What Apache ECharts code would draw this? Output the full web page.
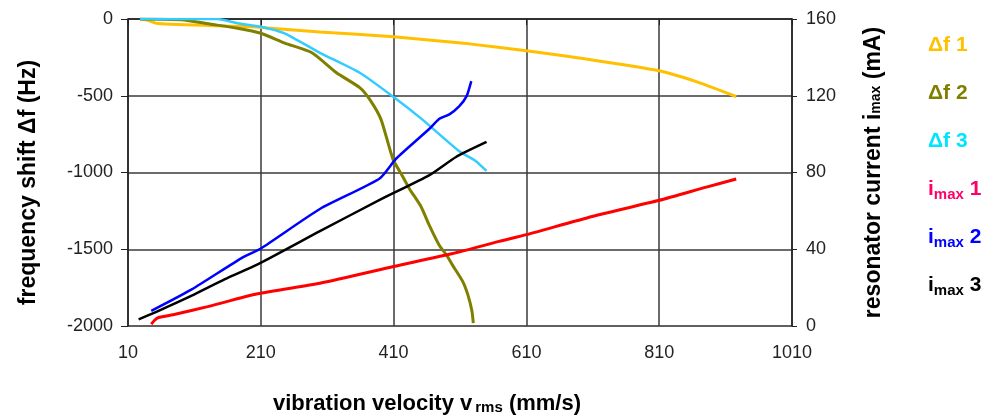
<!DOCTYPE html>
<html>
<head>
<meta charset="utf-8">
<script src="https://cdn.jsdelivr.net/npm/echarts@6/dist/echarts.min.js"></script>
<style>
  html, body { margin: 0; padding: 0; background: #fff; }
  #chart { width: 990px; height: 420px; }
</style>
</head>
<body>
<div id="chart"></div>
<script>
// vibration velocity ticks (mm/s)
var xTicks = [10, 210, 410, 610, 810, 1010]

// frequency shift curves (Hz)
var df1X = [28, 40, 55, 175, 210, 299, 410, 524, 610, 700, 808, 870, 926]
var df1Y = [0, -8, -30, -48, -55, -84, -116, -162, -207, -261, -336, -414, -505]
var df2X = [28, 90, 135, 175, 210, 246, 287, 324, 359, 374, 391, 409, 423, 434, 451, 464, 479, 490, 499, 514, 522, 528, 530]
var df2Y = [0, -5, -34, -60, -93, -157, -220, -350, -447, -524, -654, -913, -1021, -1107, -1220, -1346, -1476, -1540, -1605, -1709, -1799, -1903, -1981]
var df3X = [28, 145, 175, 210, 245, 299, 359, 409, 453, 509, 533, 550]
var df3Y = [0, 0, -28, -50, -92, -220, -350, -505, -654, -862, -923, -990]

// resonator current curves (mA)
var i1X = [45, 50, 56, 81, 130, 205, 299, 410, 499, 569, 610, 709, 810, 881, 926]
var i1Y = [1, 3, 4.4, 6.1, 10.1, 16.8, 22.3, 31, 37.8, 44.1, 47.6, 57.1, 65.5, 72.4, 76.6]
var i2X = [45, 106, 181, 210, 299, 389, 414, 464, 479, 494, 509, 520, 527]
var i2Y = [7.9, 19.1, 35.4, 40.4, 61, 76.9, 87.3, 102.8, 108, 110.3, 114.6, 119.8, 127.6]
var i3X = [26, 56, 106, 156, 206, 299, 389, 464, 504, 550]
var i3Y = [3.5, 7.9, 15.8, 24.4, 32.2, 49.4, 65.7, 78.6, 88.1, 95.9]

function pairs (xs, ys) {
  return xs.map(function (x, i) { return [x, ys[i]] })
}

var chart = echarts.init(document.getElementById('chart'))

var FONT = 'Liberation Sans, Arial, sans-serif'
var labelFont = { fontFamily: FONT, fontSize: 18, color: '#222', formatter: function (v) { return String(v) } }
var nameFont = { fontFamily: FONT, fontSize: 23, fontWeight: 'bold', color: '#000' }
var gridLine = { lineStyle: { color: '#3a3a3a', width: 1.5 } }

function line (name, data, axis, color, width) {
  return {
    name: name,
    type: 'line',
    yAxisIndex: axis,
    data: data,
    showSymbol: false,
    smooth: 0.2,
    lineStyle: { color: color, width: width },
    itemStyle: { color: color },
    z: 3
  }
}

function legendText (top, text, color) {
  return {
    type: 'text',
    left: 928,
    top: top,
    style: {
      text: text,
      fill: color,
      rich: {
        a: { fontFamily: FONT, fontSize: 21, fontWeight: 'bold', fill: color, lineHeight: 26, verticalAlign: 'middle' },
        s: { fontFamily: FONT, fontSize: 15, fontWeight: 'bold', fill: color, lineHeight: 14, verticalAlign: 'bottom' }
      }
    }
  }
}

var option = {
  animation: false,
  grid: {
    left: 128, right: 198, top: 19, bottom: 92,
    show: true, borderColor: '#aaa', borderWidth: 1
  },
  xAxis: {
    type: 'value',
    min: 10,
    max: 1010,
    name: 'vibration velocity v{s|rms} (mm/s)',
    nameLocation: 'middle',
    nameGap: 66,
    nameTextStyle: Object.assign({}, nameFont, {
      fontSize: 22,
      padding: [0, 66, 0, 0],
      rich: {
        s: { fontFamily: FONT, fontSize: 15, fontWeight: 'bold', padding: [8, 0, 0, 3] }
      }
    }),
    axisLine: { lineStyle: { color: '#222', width: 1.5 } },
    axisTick: { show: true, length: 6, customValues: xTicks, lineStyle: { color: '#222' } },
    axisLabel: Object.assign({ customValues: xTicks, margin: 18 }, labelFont),
    splitLine: gridLine
  },
  yAxis: [{
    type: 'value',
    min: -2000,
    max: 0,
    interval: 500,
    name: 'frequency shift Δf (Hz)',
    nameLocation: 'middle',
    nameGap: 88,
    nameRotate: 90,
    nameTextStyle: Object.assign({}, nameFont, { padding: [0, 20, 0, 0] }),
    axisLine: { show: true, lineStyle: { color: '#222', width: 1.5 } },
    axisTick: { show: true, length: 7, lineStyle: { color: '#222' } },
    axisLabel: Object.assign({ margin: 15 }, labelFont),
    splitLine: gridLine
  }, {
    type: 'value',
    min: 0,
    max: 160,
    interval: 40,
    position: 'right',
    name: 'resonator current i{s|max} (mA)',
    nameLocation: 'middle',
    nameGap: 70,
    nameRotate: 90,
    nameTextStyle: Object.assign({}, nameFont, {
      rich: {
        s: { fontFamily: FONT, fontSize: 14, fontWeight: 'bold', padding: [6, 0, 0, 0] }
      }
    }),
    axisLine: { show: true, lineStyle: { color: '#222', width: 1.5 } },
    axisTick: { show: true, length: 5, lineStyle: { color: '#222' } },
    axisLabel: Object.assign({ margin: 14 }, labelFont),
    splitLine: { show: false }
  }],
  graphic: [
    legendText(35, '{a|Δf 1}', '#FFC000'),
    legendText(83, '{a|Δf 2}', '#808000'),
    legendText(131, '{a|Δf 3}', '#00E5FF'),
    legendText(179, '{a|i}{s|max}{a| 1}', '#FF0066'),
    legendText(227, '{a|i}{s|max}{a| 2}', '#0000FF'),
    legendText(275, '{a|i}{s|max}{a| 3}', '#000000')
  ],
  series: [
    line('Δf 1', pairs(df1X, df1Y), 0, '#FFC000', 3),
    line('Δf 2', pairs(df2X, df2Y), 0, '#808000', 3),
    line('Δf 3', pairs(df3X, df3Y), 0, '#33CCFF', 2.5),
    line('imax 1', pairs(i1X, i1Y), 1, '#FF0000', 3),
    line('imax 2', pairs(i2X, i2Y), 1, '#0000FF', 2.5),
    line('imax 3', pairs(i3X, i3Y), 1, '#000000', 2.5)
  ]
}

chart.setOption(option)
</script>
</body>
</html>
